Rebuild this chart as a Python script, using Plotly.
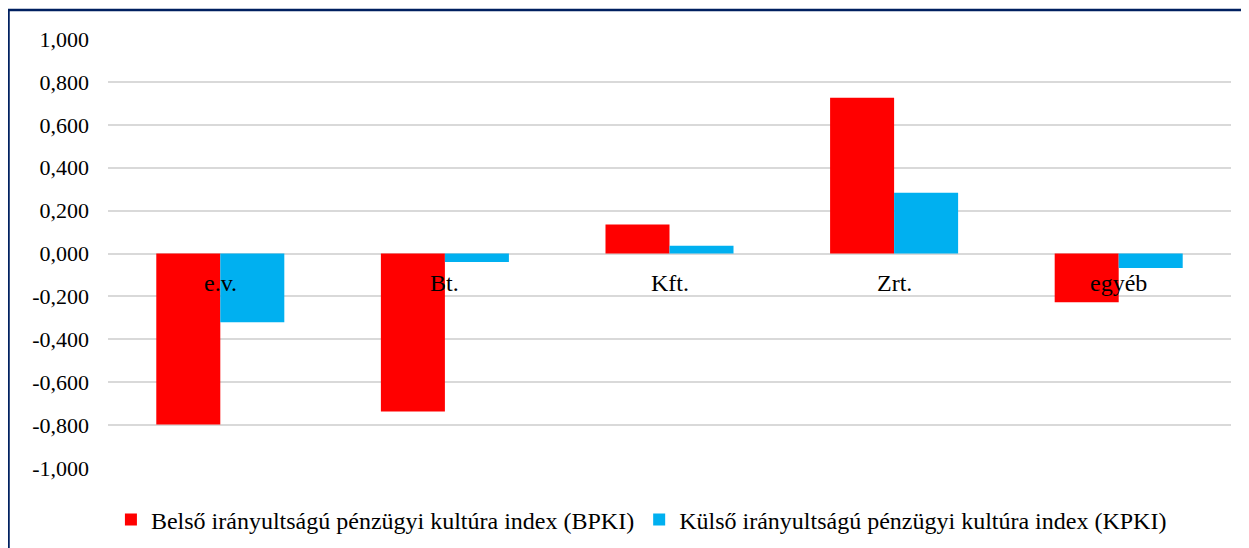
import plotly.graph_objects as go

# Data
categories = ["e.v.", "Bt.", "Kft.", "Zrt.", "egyéb"]
bpki = [-0.797, -0.737, 0.135, 0.726, -0.227]
kpki = [-0.320, -0.040, 0.036, 0.283, -0.068]
tick_vals = [1.0, 0.8, 0.6, 0.4, 0.2, 0.0, -0.2, -0.4, -0.6, -0.8, -1.0]
tick_text = ["1,000", "0,800", "0,600", "0,400", "0,200", "0,000",
             "-0,200", "-0,400", "-0,600", "-0,800", "-1,000"]

font_family = "Liberation Serif, Times New Roman, serif"
fsize = 22

fig = go.Figure()
fig.add_trace(go.Bar(x=categories, y=bpki, name="Belső irányultságú pénzügyi kultúra index (BPKI)",
                     marker_color="#FF0000", marker_line_width=0))
fig.add_trace(go.Bar(x=categories, y=kpki, name="Külső irányultságú pénzügyi kultúra index (KPKI)",
                     marker_color="#00B0F0", marker_line_width=0))

# category labels sit just under the zero line, inside the plot
for c in categories:
    fig.add_annotation(x=c, y=0, text=c, showarrow=False, yanchor="middle", yshift=-29,
                       font=dict(family=font_family, size=24, color="#000000"))

# outer frame
fig.add_shape(type="rect", xref="paper", yref="paper",
              x0=-0.0886, x1=1.05, y0=-0.3, y1=1.0676,
              line=dict(color="#002060", width=2.5), fillcolor="rgba(0,0,0,0)")

fig.update_layout(
    width=1249, height=548,
    margin=dict(l=100, r=26, t=31, b=88),
    paper_bgcolor="white", plot_bgcolor="white",
    barmode="group", bargap=0.43, bargroupgap=0,
    font=dict(family=font_family, size=fsize, color="#000000"),
    showlegend=True,
    legend=dict(orientation="h", x=0.475, xanchor="center", y=-0.121, yanchor="middle",
                font=dict(family=font_family, size=24, color="#000000"),
                itemwidth=30, tracegroupgap=0),
    xaxis=dict(showticklabels=False, showgrid=False, zeroline=False, showline=False, ticks=""),
    yaxis=dict(range=[-1.0, 1.0], tickvals=tick_vals, ticktext=tick_text,
               showgrid=True, gridcolor="#D9D9D9", gridwidth=2,
               zeroline=True, zerolinecolor="#D9D9D9", zerolinewidth=2,
               showline=False, ticks="", ticklabelstandoff=18,
               tickfont=dict(family=font_family, size=fsize, color="#000000")),
)

fig.write_html("out.html")
